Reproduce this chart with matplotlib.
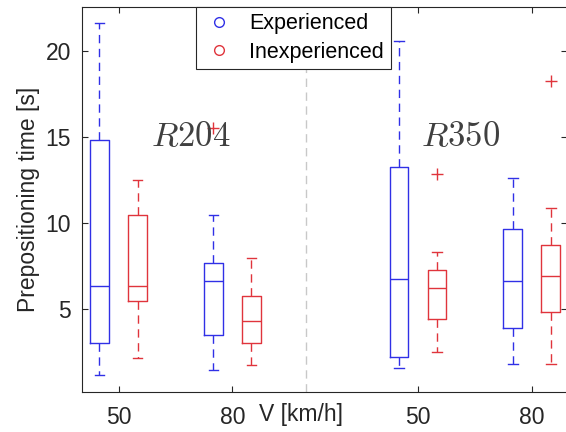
import numpy as np
import matplotlib.pyplot as plt

# speed groups (x tick labels) and tick positions
speeds = ['50', '80', '50', '80']
tick_pos = [1.0, 2.0, 3.63, 4.63]

# box statistics: [low whisker, q1, median, q3, high whisker]
exp_stats = [
    [1.2, 3.05, 6.35, 14.85, 21.6],   # R204, 50
    [1.45, 3.5, 6.65, 7.7, 10.45],    # R204, 80
    [1.6, 2.25, 6.75, 13.25, 20.55],  # R350, 50
    [1.8, 3.9, 6.65, 9.65, 12.6],     # R350, 80
]
exp_fliers = [[], [15.5], [], []]

inexp_stats = [
    [2.15, 5.5, 6.35, 10.45, 12.5],   # R204, 50
    [1.75, 3.05, 4.3, 5.75, 7.95],    # R204, 80
    [2.5, 4.4, 6.25, 7.25, 8.3],      # R350, 50
    [1.8, 4.85, 6.9, 8.7, 10.85],     # R350, 80
]
inexp_fliers = [[], [], [12.85], [18.25]]

blue = '#3030e6'
red = '#e0343c'

plt.rcParams['font.family'] = ['Liberation Sans', 'DejaVu Sans']
plt.rcParams['mathtext.fontset'] = 'cm'

fig = plt.figure(figsize=(5.66, 4.32), dpi=100)
ax = fig.add_axes([0.145, 0.093, 0.857, 0.891])


def to_bxp(stats, fliers):
    out = []
    for s, f in zip(stats, fliers):
        out.append(dict(whislo=s[0], q1=s[1], med=s[2], q3=s[3], whishi=s[4], fliers=f))
    return out


off = 0.167
w = 0.165
for stats, fliers, col, sgn in [(exp_stats, exp_fliers, blue, -1),
                                (inexp_stats, inexp_fliers, red, 1)]:
    pos = [p + sgn * off for p in tick_pos]
    ax.bxp(to_bxp(stats, fliers), positions=pos, widths=w, showfliers=True,
           boxprops=dict(color=col, lw=1.0),
           medianprops=dict(color=col, lw=1.0),
           whiskerprops=dict(color=col, lw=1.0, ls=(0, (6, 4))),
           capprops=dict(color=col, lw=1.0),
           capwidths=w * 0.5,
           flierprops=dict(marker='+', markeredgecolor=red, markersize=8, mew=1.0))

# separator between the two vehicles
ax.axvline(2.65, color='#c8c8c8', ls=(0, (6, 4)), lw=1.0)

ax.text(1.63, 15.0, r'$R204$', fontsize=25, color='#404040', ha='center', va='center')
ax.text(4.0, 15.0, r'$R350$', fontsize=25, color='#404040', ha='center', va='center')

ax.set_xlim(0.68, 4.94)
ax.set_ylim(0.2, 22.55)
ax.set_xticks(tick_pos)
ax.set_xticklabels(speeds)
ax.set_yticks([5, 10, 15, 20])
ax.tick_params(direction='in', top=True, right=True, length=4, labelsize=16.5,
               colors='#262626', pad=8)
ax.tick_params(axis='x', pad=10)
for sp in ax.spines.values():
    sp.set_color('#262626')
    sp.set_linewidth(0.8)

ax.set_ylabel('Prepositioning time [s]', fontsize=16.5, color='#262626')
ax.text(2.6, -0.06, 'V [km/h]', transform=ax.get_xaxis_transform(),
        ha='center', va='center', fontsize=16.5, color='#262626')

# legend with open circle markers
h1, = ax.plot([], [], 'o', mfc='none', mec=blue, ms=7)
h2, = ax.plot([], [], 'o', mfc='none', mec=red, ms=7)
leg = ax.legend([h1, h2], ['Experienced', 'Inexperienced'], loc='upper left',
                bbox_to_anchor=(0.234, 1.0), fontsize=15.5, frameon=True,
                fancybox=False, edgecolor='#262626', framealpha=1,
                borderpad=0.3, labelspacing=0.35, handletextpad=0.6,
                handlelength=1.6, borderaxespad=0)
leg.get_frame().set_linewidth(0.8)

fig.savefig('out.png', dpi=100)
